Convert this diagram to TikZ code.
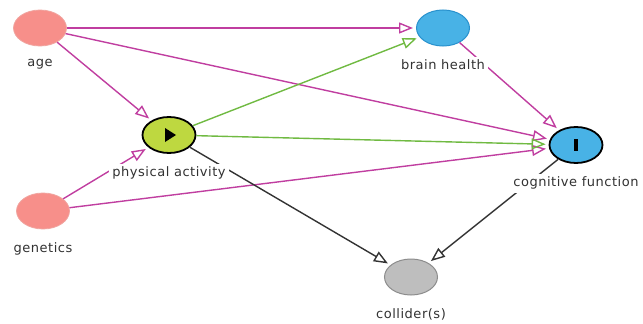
\documentclass[tikz,border=0pt]{standalone}
\usepackage{fontspec}
\setmainfont{DejaVu Sans}[LetterSpace=4]
\usetikzlibrary{shapes.geometric,arrows.meta,positioning}

\definecolor{salmon}{RGB}{247,143,138}
\definecolor{salmonline}{RGB}{240,165,160}
\definecolor{skyblue}{RGB}{72,178,230}
\definecolor{skyline}{RGB}{40,145,205}
\definecolor{lime}{RGB}{190,216,64}
\definecolor{greyfill}{RGB}{190,190,190}
\definecolor{pinkarr}{RGB}{192,62,160}
\definecolor{greenarr}{RGB}{112,186,66}
\definecolor{labtext}{RGB}{50,50,50}

\begin{document}
\begin{tikzpicture}[x=1pt, y=-1pt, node distance=10pt,
  var/.style = {ellipse, minimum width=53pt, minimum height=36pt, inner sep=0pt},
  other/.style = {var, fill=salmon, draw=salmonline, line width=0.8pt},
  anc/.style = {var, fill=skyblue, draw=skyline, line width=1pt},
  lab/.style = {fill=white, inner sep=3pt, text=labtext, font=\fontsize{13}{15}\selectfont},
  arr/.style = {-{Triangle[open, length=14pt, width=11pt]}, line width=1.4pt, shorten >=3pt},
  pink/.style = {arr, draw=pinkarr},
  green/.style = {arr, draw=greenarr},
  black/.style = {arr, draw=black!80}]
\useasboundingbox (0,0) rectangle (643,324);

\node[other] (age) at (40,28) {};
\node[other] (gen) at (43,211) {};
\node[var, fill=lime, draw=black, line width=1.8pt] (pa) at (169,135) {};
\node[anc] (bh) at (443,28) {};
\node[var, fill=skyblue, draw=black, line width=1.8pt] (cf) at (576,145) {};
\node[var, fill=greyfill, draw=black!45, line width=1pt] (col) at (411,277) {};

% exposure and outcome marks
\fill ([shift={(-4,-7)}]pa.center) -- ([shift={(7,0)}]pa.center) -- ([shift={(-4,7)}]pa.center) -- cycle;
\fill ([shift={(-2,-6)}]cf.center) rectangle ([shift={(2,6)}]cf.center);

\draw[pink] (age) -- (bh);
\draw[pink] (age) -- (cf);
\draw[pink] (age) -- (pa);
\draw[pink] (gen) -- (pa);
\draw[pink] (gen) -- (cf);
\draw[pink] (bh) -- (cf);
\draw[green] (pa) -- (bh);
\draw[green] (pa) -- (cf);
\draw[black] (pa) -- (col);
\draw[black] (cf) -- (col);

\node[lab, below=of age] {age};
\node[lab, below=of gen] {genetics};
\node[lab, below=of pa] {physical activity};
\node[lab, below=of bh] {brain health};
\node[lab, below=of cf] {cognitive function};
\node[lab, below=of col] {collider(s)};
\end{tikzpicture}
\end{document}
